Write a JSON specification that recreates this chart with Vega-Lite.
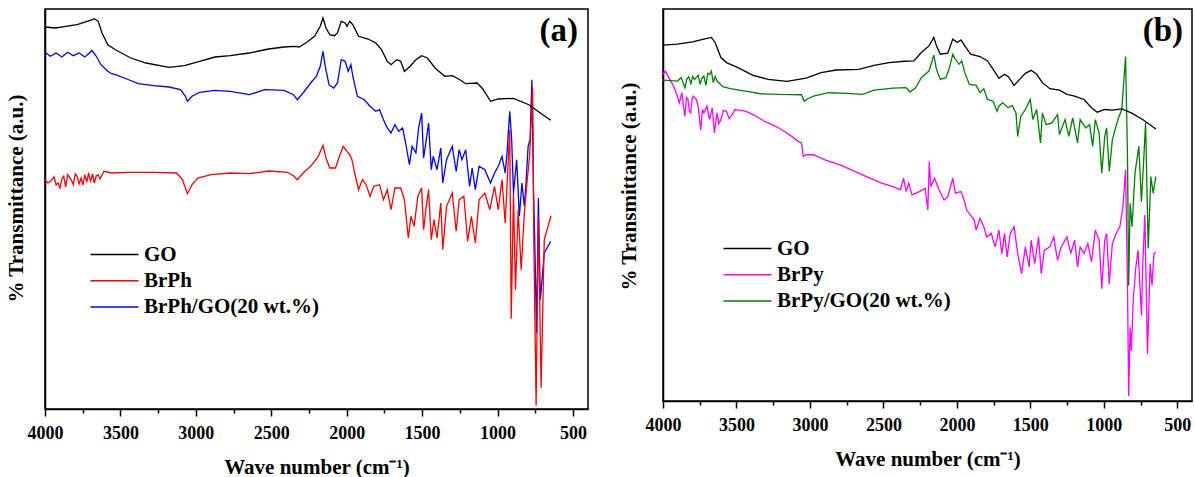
{
"$schema": "https://vega.github.io/schema/vega-lite/v6.json",
"background": "white",
"padding": {"left": 4, "top": 8, "right": 3, "bottom": 0},
"bounds": "flush",
"spacing": 75,
"config": {
  "font": "Liberation Serif",
  "view": {"stroke": "black", "strokeWidth": 1.5},
  "axis": {"domainColor": "black", "domainWidth": 1.5, "tickColor": "black", "tickWidth": 1.5, "labelFont": "Liberation Serif", "titleFont": "Liberation Serif", "labelFontWeight": "bold", "titleFontWeight": "bold", "labelColor": "black", "titleColor": "black", "grid": false},
  "legend": {"labelFont": "Liberation Serif", "labelFontWeight": "bold", "labelColor": "black", "labelFontSize": 21, "labelLimit": 0, "symbolType": "M-4,0H4", "symbolSize": 144, "symbolStrokeWidth": 1.5, "labelOffset": 19, "rowPadding": 4.3}
},
"datasets": {
"a": [
{"x":4000,"y":356.7,"s":"BrPh/GO(20 wt.%)"},{"x":3964,"y":352.7,"s":"BrPh/GO(20 wt.%)"},{"x":3926,"y":356,"s":"BrPh/GO(20 wt.%)"},{"x":3888,"y":352,"s":"BrPh/GO(20 wt.%)"},{"x":3850,"y":356.7,"s":"BrPh/GO(20 wt.%)"},{"x":3812,"y":353.3,"s":"BrPh/GO(20 wt.%)"},{"x":3774,"y":356,"s":"BrPh/GO(20 wt.%)"},{"x":3736,"y":352,"s":"BrPh/GO(20 wt.%)"},{"x":3711,"y":355.3,"s":"BrPh/GO(20 wt.%)"},{"x":3690,"y":358.7,"s":"BrPh/GO(20 wt.%)"},{"x":3660,"y":352.7,"s":"BrPh/GO(20 wt.%)"},{"x":3629,"y":344.3,"s":"BrPh/GO(20 wt.%)"},{"x":3584,"y":337.7,"s":"BrPh/GO(20 wt.%)"},{"x":3558,"y":335.3,"s":"BrPh/GO(20 wt.%)"},{"x":3533,"y":334.3,"s":"BrPh/GO(20 wt.%)"},{"x":3457,"y":330,"s":"BrPh/GO(20 wt.%)"},{"x":3381,"y":325.3,"s":"BrPh/GO(20 wt.%)"},{"x":3279,"y":323.3,"s":"BrPh/GO(20 wt.%)"},{"x":3178,"y":322,"s":"BrPh/GO(20 wt.%)"},{"x":3102,"y":319.3,"s":"BrPh/GO(20 wt.%)"},{"x":3069,"y":312.7,"s":"BrPh/GO(20 wt.%)"},{"x":3056,"y":307.7,"s":"BrPh/GO(20 wt.%)"},{"x":3025,"y":312.7,"s":"BrPh/GO(20 wt.%)"},{"x":2975,"y":316.7,"s":"BrPh/GO(20 wt.%)"},{"x":2873,"y":318.7,"s":"BrPh/GO(20 wt.%)"},{"x":2772,"y":317.7,"s":"BrPh/GO(20 wt.%)"},{"x":2645,"y":314.3,"s":"BrPh/GO(20 wt.%)"},{"x":2543,"y":319.3,"s":"BrPh/GO(20 wt.%)"},{"x":2416,"y":318.7,"s":"BrPh/GO(20 wt.%)"},{"x":2353,"y":314.3,"s":"BrPh/GO(20 wt.%)"},{"x":2327,"y":309.3,"s":"BrPh/GO(20 wt.%)"},{"x":2289,"y":316,"s":"BrPh/GO(20 wt.%)"},{"x":2239,"y":326,"s":"BrPh/GO(20 wt.%)"},{"x":2201,"y":332.7,"s":"BrPh/GO(20 wt.%)"},{"x":2175,"y":342.7,"s":"BrPh/GO(20 wt.%)"},{"x":2157,"y":357.7,"s":"BrPh/GO(20 wt.%)"},{"x":2142,"y":342.7,"s":"BrPh/GO(20 wt.%)"},{"x":2117,"y":324.3,"s":"BrPh/GO(20 wt.%)"},{"x":2086,"y":321,"s":"BrPh/GO(20 wt.%)"},{"x":2061,"y":326,"s":"BrPh/GO(20 wt.%)"},{"x":2036,"y":349.3,"s":"BrPh/GO(20 wt.%)"},{"x":2010,"y":347.7,"s":"BrPh/GO(20 wt.%)"},{"x":1990,"y":337.7,"s":"BrPh/GO(20 wt.%)"},{"x":1972,"y":344.3,"s":"BrPh/GO(20 wt.%)"},{"x":1959,"y":332.7,"s":"BrPh/GO(20 wt.%)"},{"x":1929,"y":312.7,"s":"BrPh/GO(20 wt.%)"},{"x":1883,"y":309.3,"s":"BrPh/GO(20 wt.%)"},{"x":1845,"y":302.7,"s":"BrPh/GO(20 wt.%)"},{"x":1807,"y":297.7,"s":"BrPh/GO(20 wt.%)"},{"x":1782,"y":299.3,"s":"BrPh/GO(20 wt.%)"},{"x":1756,"y":289.3,"s":"BrPh/GO(20 wt.%)"},{"x":1731,"y":281,"s":"BrPh/GO(20 wt.%)"},{"x":1706,"y":276,"s":"BrPh/GO(20 wt.%)"},{"x":1680,"y":284.3,"s":"BrPh/GO(20 wt.%)"},{"x":1655,"y":277.7,"s":"BrPh/GO(20 wt.%)"},{"x":1629,"y":281,"s":"BrPh/GO(20 wt.%)"},{"x":1609,"y":266,"s":"BrPh/GO(20 wt.%)"},{"x":1584,"y":244.3,"s":"BrPh/GO(20 wt.%)"},{"x":1566,"y":262.7,"s":"BrPh/GO(20 wt.%)"},{"x":1541,"y":256,"s":"BrPh/GO(20 wt.%)"},{"x":1523,"y":281,"s":"BrPh/GO(20 wt.%)"},{"x":1503,"y":296,"s":"BrPh/GO(20 wt.%)"},{"x":1490,"y":251,"s":"BrPh/GO(20 wt.%)"},{"x":1472,"y":269.3,"s":"BrPh/GO(20 wt.%)"},{"x":1457,"y":286,"s":"BrPh/GO(20 wt.%)"},{"x":1439,"y":239.3,"s":"BrPh/GO(20 wt.%)"},{"x":1426,"y":252.7,"s":"BrPh/GO(20 wt.%)"},{"x":1401,"y":239.3,"s":"BrPh/GO(20 wt.%)"},{"x":1376,"y":261,"s":"BrPh/GO(20 wt.%)"},{"x":1363,"y":226,"s":"BrPh/GO(20 wt.%)"},{"x":1338,"y":249.3,"s":"BrPh/GO(20 wt.%)"},{"x":1300,"y":262.7,"s":"BrPh/GO(20 wt.%)"},{"x":1274,"y":237.7,"s":"BrPh/GO(20 wt.%)"},{"x":1254,"y":259.3,"s":"BrPh/GO(20 wt.%)"},{"x":1236,"y":249.3,"s":"BrPh/GO(20 wt.%)"},{"x":1211,"y":259.3,"s":"BrPh/GO(20 wt.%)"},{"x":1185,"y":222.7,"s":"BrPh/GO(20 wt.%)"},{"x":1168,"y":241,"s":"BrPh/GO(20 wt.%)"},{"x":1147,"y":219.3,"s":"BrPh/GO(20 wt.%)"},{"x":1122,"y":242.7,"s":"BrPh/GO(20 wt.%)"},{"x":1084,"y":239.3,"s":"BrPh/GO(20 wt.%)"},{"x":1046,"y":226,"s":"BrPh/GO(20 wt.%)"},{"x":1020,"y":236,"s":"BrPh/GO(20 wt.%)"},{"x":995,"y":242.7,"s":"BrPh/GO(20 wt.%)"},{"x":970,"y":252.7,"s":"BrPh/GO(20 wt.%)"},{"x":949,"y":236,"s":"BrPh/GO(20 wt.%)"},{"x":937,"y":256,"s":"BrPh/GO(20 wt.%)"},{"x":919,"y":297.7,"s":"BrPh/GO(20 wt.%)"},{"x":906,"y":269.3,"s":"BrPh/GO(20 wt.%)"},{"x":894,"y":216,"s":"BrPh/GO(20 wt.%)"},{"x":873,"y":249.3,"s":"BrPh/GO(20 wt.%)"},{"x":855,"y":192.7,"s":"BrPh/GO(20 wt.%)"},{"x":838,"y":226,"s":"BrPh/GO(20 wt.%)"},{"x":822,"y":202.7,"s":"BrPh/GO(20 wt.%)"},{"x":812,"y":222.7,"s":"BrPh/GO(20 wt.%)"},{"x":797,"y":262.7,"s":"BrPh/GO(20 wt.%)"},{"x":784,"y":269.3,"s":"BrPh/GO(20 wt.%)"},{"x":772,"y":329.3,"s":"BrPh/GO(20 wt.%)"},{"x":761,"y":216,"s":"BrPh/GO(20 wt.%)"},{"x":754,"y":176,"s":"BrPh/GO(20 wt.%)"},{"x":741,"y":76,"s":"BrPh/GO(20 wt.%)"},{"x":729,"y":211,"s":"BrPh/GO(20 wt.%)"},{"x":716,"y":109.3,"s":"BrPh/GO(20 wt.%)"},{"x":690,"y":156,"s":"BrPh/GO(20 wt.%)"},{"x":647,"y":167.7,"s":"BrPh/GO(20 wt.%)"},
{"x":4000,"y":229.3,"s":"BrPh"},{"x":3982,"y":226,"s":"BrPh"},{"x":3964,"y":227.7,"s":"BrPh"},{"x":3940,"y":232,"s":"BrPh"},{"x":3926,"y":224,"s":"BrPh"},{"x":3914,"y":226,"s":"BrPh"},{"x":3901,"y":221,"s":"BrPh"},{"x":3888,"y":230,"s":"BrPh"},{"x":3876,"y":232.7,"s":"BrPh"},{"x":3863,"y":222,"s":"BrPh"},{"x":3850,"y":234.3,"s":"BrPh"},{"x":3825,"y":229,"s":"BrPh"},{"x":3812,"y":224.3,"s":"BrPh"},{"x":3800,"y":235,"s":"BrPh"},{"x":3787,"y":232.7,"s":"BrPh"},{"x":3774,"y":225,"s":"BrPh"},{"x":3761,"y":231,"s":"BrPh"},{"x":3748,"y":224,"s":"BrPh"},{"x":3736,"y":234.3,"s":"BrPh"},{"x":3723,"y":227,"s":"BrPh"},{"x":3711,"y":236,"s":"BrPh"},{"x":3698,"y":228,"s":"BrPh"},{"x":3685,"y":235,"s":"BrPh"},{"x":3673,"y":226,"s":"BrPh"},{"x":3660,"y":233,"s":"BrPh"},{"x":3647,"y":234.3,"s":"BrPh"},{"x":3635,"y":230,"s":"BrPh"},{"x":3609,"y":237.7,"s":"BrPh"},{"x":3558,"y":236,"s":"BrPh"},{"x":3457,"y":236.7,"s":"BrPh"},{"x":3279,"y":236.7,"s":"BrPh"},{"x":3127,"y":236,"s":"BrPh"},{"x":3089,"y":229.3,"s":"BrPh"},{"x":3056,"y":215.3,"s":"BrPh"},{"x":3025,"y":224.3,"s":"BrPh"},{"x":2987,"y":231,"s":"BrPh"},{"x":2899,"y":234.3,"s":"BrPh"},{"x":2772,"y":236,"s":"BrPh"},{"x":2645,"y":235.3,"s":"BrPh"},{"x":2518,"y":238,"s":"BrPh"},{"x":2391,"y":236.7,"s":"BrPh"},{"x":2353,"y":233.3,"s":"BrPh"},{"x":2327,"y":229.3,"s":"BrPh"},{"x":2289,"y":236,"s":"BrPh"},{"x":2239,"y":242.7,"s":"BrPh"},{"x":2188,"y":252.7,"s":"BrPh"},{"x":2157,"y":263.7,"s":"BrPh"},{"x":2137,"y":251,"s":"BrPh"},{"x":2112,"y":241,"s":"BrPh"},{"x":2074,"y":241,"s":"BrPh"},{"x":2048,"y":252.7,"s":"BrPh"},{"x":2023,"y":262.7,"s":"BrPh"},{"x":1998,"y":257.7,"s":"BrPh"},{"x":1980,"y":254.3,"s":"BrPh"},{"x":1965,"y":249.3,"s":"BrPh"},{"x":1947,"y":236,"s":"BrPh"},{"x":1921,"y":219.3,"s":"BrPh"},{"x":1896,"y":229.3,"s":"BrPh"},{"x":1871,"y":224.3,"s":"BrPh"},{"x":1845,"y":212.7,"s":"BrPh"},{"x":1820,"y":222.7,"s":"BrPh"},{"x":1782,"y":224.3,"s":"BrPh"},{"x":1756,"y":209.3,"s":"BrPh"},{"x":1731,"y":219.3,"s":"BrPh"},{"x":1706,"y":199.3,"s":"BrPh"},{"x":1680,"y":221,"s":"BrPh"},{"x":1642,"y":221,"s":"BrPh"},{"x":1617,"y":209.3,"s":"BrPh"},{"x":1591,"y":171,"s":"BrPh"},{"x":1574,"y":192.7,"s":"BrPh"},{"x":1553,"y":182.7,"s":"BrPh"},{"x":1528,"y":212.7,"s":"BrPh"},{"x":1503,"y":221,"s":"BrPh"},{"x":1490,"y":179.3,"s":"BrPh"},{"x":1472,"y":202.7,"s":"BrPh"},{"x":1457,"y":219.3,"s":"BrPh"},{"x":1439,"y":169.3,"s":"BrPh"},{"x":1421,"y":189.3,"s":"BrPh"},{"x":1401,"y":171,"s":"BrPh"},{"x":1376,"y":206,"s":"BrPh"},{"x":1363,"y":159.3,"s":"BrPh"},{"x":1338,"y":202.7,"s":"BrPh"},{"x":1300,"y":216,"s":"BrPh"},{"x":1274,"y":177.7,"s":"BrPh"},{"x":1254,"y":209.3,"s":"BrPh"},{"x":1223,"y":212.7,"s":"BrPh"},{"x":1198,"y":167.7,"s":"BrPh"},{"x":1173,"y":192.7,"s":"BrPh"},{"x":1147,"y":166,"s":"BrPh"},{"x":1122,"y":209.3,"s":"BrPh"},{"x":1084,"y":216,"s":"BrPh"},{"x":1051,"y":199.3,"s":"BrPh"},{"x":1020,"y":222.7,"s":"BrPh"},{"x":995,"y":199.3,"s":"BrPh"},{"x":970,"y":229.3,"s":"BrPh"},{"x":949,"y":186,"s":"BrPh"},{"x":937,"y":222.7,"s":"BrPh"},{"x":919,"y":279.3,"s":"BrPh"},{"x":909,"y":90.3,"s":"BrPh"},{"x":894,"y":216,"s":"BrPh"},{"x":881,"y":119.3,"s":"BrPh"},{"x":863,"y":199.3,"s":"BrPh"},{"x":843,"y":139.3,"s":"BrPh"},{"x":822,"y":196,"s":"BrPh"},{"x":805,"y":226,"s":"BrPh"},{"x":787,"y":252.7,"s":"BrPh"},{"x":767,"y":321.3,"s":"BrPh"},{"x":759,"y":166,"s":"BrPh"},{"x":744,"y":3.3,"s":"BrPh"},{"x":729,"y":192.7,"s":"BrPh"},{"x":711,"y":21.3,"s":"BrPh"},{"x":690,"y":169.3,"s":"BrPh"},{"x":645,"y":193.3,"s":"BrPh"},
{"x":4000,"y":382,"s":"GO"},{"x":3930,"y":381,"s":"GO"},{"x":3863,"y":382.7,"s":"GO"},{"x":3787,"y":384.3,"s":"GO"},{"x":3685,"y":389.3,"s":"GO"},{"x":3673,"y":390.3,"s":"GO"},{"x":3647,"y":387.7,"s":"GO"},{"x":3622,"y":376,"s":"GO"},{"x":3584,"y":364.3,"s":"GO"},{"x":3533,"y":359.3,"s":"GO"},{"x":3431,"y":351,"s":"GO"},{"x":3330,"y":346,"s":"GO"},{"x":3178,"y":341.7,"s":"GO"},{"x":3076,"y":343.3,"s":"GO"},{"x":2975,"y":347.7,"s":"GO"},{"x":2873,"y":352,"s":"GO"},{"x":2772,"y":353.3,"s":"GO"},{"x":2645,"y":356,"s":"GO"},{"x":2518,"y":360,"s":"GO"},{"x":2416,"y":362,"s":"GO"},{"x":2340,"y":362.7,"s":"GO"},{"x":2315,"y":362,"s":"GO"},{"x":2264,"y":366.7,"s":"GO"},{"x":2213,"y":372.7,"s":"GO"},{"x":2175,"y":382.7,"s":"GO"},{"x":2157,"y":391,"s":"GO"},{"x":2137,"y":381,"s":"GO"},{"x":2112,"y":374.3,"s":"GO"},{"x":2081,"y":373.3,"s":"GO"},{"x":2061,"y":376,"s":"GO"},{"x":2036,"y":387.7,"s":"GO"},{"x":2010,"y":386,"s":"GO"},{"x":1998,"y":382.7,"s":"GO"},{"x":1980,"y":387.7,"s":"GO"},{"x":1959,"y":384.3,"s":"GO"},{"x":1921,"y":372.7,"s":"GO"},{"x":1858,"y":370,"s":"GO"},{"x":1807,"y":366,"s":"GO"},{"x":1769,"y":359.3,"s":"GO"},{"x":1731,"y":347.7,"s":"GO"},{"x":1706,"y":344.3,"s":"GO"},{"x":1668,"y":349.3,"s":"GO"},{"x":1642,"y":347.7,"s":"GO"},{"x":1617,"y":337.7,"s":"GO"},{"x":1579,"y":342.7,"s":"GO"},{"x":1541,"y":349.3,"s":"GO"},{"x":1503,"y":353.3,"s":"GO"},{"x":1465,"y":351,"s":"GO"},{"x":1414,"y":341,"s":"GO"},{"x":1350,"y":332.7,"s":"GO"},{"x":1300,"y":333.3,"s":"GO"},{"x":1249,"y":329.3,"s":"GO"},{"x":1211,"y":325.3,"s":"GO"},{"x":1135,"y":326,"s":"GO"},{"x":1097,"y":320,"s":"GO"},{"x":1046,"y":307.7,"s":"GO"},{"x":995,"y":310,"s":"GO"},{"x":894,"y":310.7,"s":"GO"},{"x":792,"y":304.3,"s":"GO"},{"x":716,"y":296,"s":"GO"},{"x":647,"y":288.7,"s":"GO"}
],
"b": [
{"x":4000,"y":325,"s":"BrPy"},{"x":3985,"y":328.3,"s":"BrPy"},{"x":3954,"y":320,"s":"BrPy"},{"x":3928,"y":313.3,"s":"BrPy"},{"x":3902,"y":303.3,"s":"BrPy"},{"x":3889,"y":296.7,"s":"BrPy"},{"x":3871,"y":306.7,"s":"BrPy"},{"x":3860,"y":292,"s":"BrPy"},{"x":3851,"y":283.3,"s":"BrPy"},{"x":3840,"y":302,"s":"BrPy"},{"x":3830,"y":300,"s":"BrPy"},{"x":3820,"y":288,"s":"BrPy"},{"x":3812,"y":286.7,"s":"BrPy"},{"x":3802,"y":300,"s":"BrPy"},{"x":3794,"y":303.3,"s":"BrPy"},{"x":3773,"y":300,"s":"BrPy"},{"x":3761,"y":293.3,"s":"BrPy"},{"x":3743,"y":269.3,"s":"BrPy"},{"x":3732,"y":290,"s":"BrPy"},{"x":3722,"y":286.7,"s":"BrPy"},{"x":3701,"y":293.3,"s":"BrPy"},{"x":3683,"y":280,"s":"BrPy"},{"x":3665,"y":291.7,"s":"BrPy"},{"x":3650,"y":266.7,"s":"BrPy"},{"x":3632,"y":286.7,"s":"BrPy"},{"x":3620,"y":276,"s":"BrPy"},{"x":3606,"y":280,"s":"BrPy"},{"x":3590,"y":289,"s":"BrPy"},{"x":3568,"y":288.3,"s":"BrPy"},{"x":3550,"y":281,"s":"BrPy"},{"x":3529,"y":285,"s":"BrPy"},{"x":3510,"y":290,"s":"BrPy"},{"x":3490,"y":289.3,"s":"BrPy"},{"x":3439,"y":288.3,"s":"BrPy"},{"x":3387,"y":285,"s":"BrPy"},{"x":3310,"y":278.3,"s":"BrPy"},{"x":3233,"y":273.3,"s":"BrPy"},{"x":3156,"y":266.7,"s":"BrPy"},{"x":3079,"y":258.3,"s":"BrPy"},{"x":3058,"y":256.7,"s":"BrPy"},{"x":3045,"y":243.3,"s":"BrPy"},{"x":3027,"y":245,"s":"BrPy"},{"x":2976,"y":245,"s":"BrPy"},{"x":2898,"y":240,"s":"BrPy"},{"x":2795,"y":235,"s":"BrPy"},{"x":2718,"y":230,"s":"BrPy"},{"x":2615,"y":223.3,"s":"BrPy"},{"x":2512,"y":216.7,"s":"BrPy"},{"x":2435,"y":213.3,"s":"BrPy"},{"x":2384,"y":210,"s":"BrPy"},{"x":2363,"y":221.7,"s":"BrPy"},{"x":2345,"y":208.3,"s":"BrPy"},{"x":2327,"y":216.7,"s":"BrPy"},{"x":2306,"y":205,"s":"BrPy"},{"x":2255,"y":208.3,"s":"BrPy"},{"x":2216,"y":211.7,"s":"BrPy"},{"x":2198,"y":190,"s":"BrPy"},{"x":2188,"y":238.3,"s":"BrPy"},{"x":2178,"y":213.3,"s":"BrPy"},{"x":2152,"y":221.7,"s":"BrPy"},{"x":2126,"y":211.7,"s":"BrPy"},{"x":2087,"y":200,"s":"BrPy"},{"x":2062,"y":203.3,"s":"BrPy"},{"x":2028,"y":221.7,"s":"BrPy"},{"x":2010,"y":206.7,"s":"BrPy"},{"x":1972,"y":208.3,"s":"BrPy"},{"x":1951,"y":200,"s":"BrPy"},{"x":1933,"y":190,"s":"BrPy"},{"x":1907,"y":185,"s":"BrPy"},{"x":1882,"y":180,"s":"BrPy"},{"x":1869,"y":170,"s":"BrPy"},{"x":1843,"y":181.7,"s":"BrPy"},{"x":1817,"y":173.3,"s":"BrPy"},{"x":1797,"y":163.3,"s":"BrPy"},{"x":1766,"y":166.7,"s":"BrPy"},{"x":1740,"y":153.3,"s":"BrPy"},{"x":1714,"y":170,"s":"BrPy"},{"x":1694,"y":146.7,"s":"BrPy"},{"x":1676,"y":166.7,"s":"BrPy"},{"x":1658,"y":143.3,"s":"BrPy"},{"x":1637,"y":166.7,"s":"BrPy"},{"x":1611,"y":173.3,"s":"BrPy"},{"x":1586,"y":146.7,"s":"BrPy"},{"x":1560,"y":126.7,"s":"BrPy"},{"x":1534,"y":153.3,"s":"BrPy"},{"x":1508,"y":133.3,"s":"BrPy"},{"x":1495,"y":160,"s":"BrPy"},{"x":1470,"y":136.7,"s":"BrPy"},{"x":1444,"y":163.3,"s":"BrPy"},{"x":1426,"y":126.7,"s":"BrPy"},{"x":1405,"y":150,"s":"BrPy"},{"x":1367,"y":153.3,"s":"BrPy"},{"x":1341,"y":163.3,"s":"BrPy"},{"x":1315,"y":140,"s":"BrPy"},{"x":1290,"y":153.3,"s":"BrPy"},{"x":1251,"y":163.3,"s":"BrPy"},{"x":1225,"y":146.7,"s":"BrPy"},{"x":1199,"y":160,"s":"BrPy"},{"x":1179,"y":133.3,"s":"BrPy"},{"x":1161,"y":153.3,"s":"BrPy"},{"x":1135,"y":146.7,"s":"BrPy"},{"x":1109,"y":156.7,"s":"BrPy"},{"x":1084,"y":138.3,"s":"BrPy"},{"x":1058,"y":170,"s":"BrPy"},{"x":1032,"y":160,"s":"BrPy"},{"x":1014,"y":111.7,"s":"BrPy"},{"x":994,"y":160,"s":"BrPy"},{"x":981,"y":166.7,"s":"BrPy"},{"x":963,"y":116.7,"s":"BrPy"},{"x":942,"y":156.7,"s":"BrPy"},{"x":916,"y":166.7,"s":"BrPy"},{"x":891,"y":173.3,"s":"BrPy"},{"x":870,"y":193.3,"s":"BrPy"},{"x":852,"y":230,"s":"BrPy"},{"x":839,"y":115,"s":"BrPy"},{"x":831,"y":5,"s":"BrPy"},{"x":821,"y":73.3,"s":"BrPy"},{"x":813,"y":50,"s":"BrPy"},{"x":800,"y":100,"s":"BrPy"},{"x":782,"y":133.3,"s":"BrPy"},{"x":767,"y":150,"s":"BrPy"},{"x":744,"y":85,"s":"BrPy"},{"x":736,"y":133.3,"s":"BrPy"},{"x":721,"y":185,"s":"BrPy"},{"x":703,"y":46.7,"s":"BrPy"},{"x":685,"y":136.7,"s":"BrPy"},{"x":672,"y":115,"s":"BrPy"},{"x":659,"y":146.7,"s":"BrPy"},{"x":646,"y":148.3,"s":"BrPy"},
{"x":4000,"y":319.3,"s":"BrPy/GO(20 wt.%)"},{"x":3902,"y":318.3,"s":"BrPy/GO(20 wt.%)"},{"x":3876,"y":321.7,"s":"BrPy/GO(20 wt.%)"},{"x":3851,"y":311.7,"s":"BrPy/GO(20 wt.%)"},{"x":3838,"y":320,"s":"BrPy/GO(20 wt.%)"},{"x":3825,"y":322.7,"s":"BrPy/GO(20 wt.%)"},{"x":3810,"y":316,"s":"BrPy/GO(20 wt.%)"},{"x":3798,"y":323,"s":"BrPy/GO(20 wt.%)"},{"x":3786,"y":320,"s":"BrPy/GO(20 wt.%)"},{"x":3760,"y":324,"s":"BrPy/GO(20 wt.%)"},{"x":3748,"y":315,"s":"BrPy/GO(20 wt.%)"},{"x":3735,"y":321,"s":"BrPy/GO(20 wt.%)"},{"x":3722,"y":323.3,"s":"BrPy/GO(20 wt.%)"},{"x":3708,"y":314,"s":"BrPy/GO(20 wt.%)"},{"x":3695,"y":326,"s":"BrPy/GO(20 wt.%)"},{"x":3683,"y":325,"s":"BrPy/GO(20 wt.%)"},{"x":3671,"y":328.3,"s":"BrPy/GO(20 wt.%)"},{"x":3658,"y":316.7,"s":"BrPy/GO(20 wt.%)"},{"x":3645,"y":323,"s":"BrPy/GO(20 wt.%)"},{"x":3632,"y":318.3,"s":"BrPy/GO(20 wt.%)"},{"x":3593,"y":312.7,"s":"BrPy/GO(20 wt.%)"},{"x":3542,"y":310.7,"s":"BrPy/GO(20 wt.%)"},{"x":3439,"y":308.3,"s":"BrPy/GO(20 wt.%)"},{"x":3336,"y":305.7,"s":"BrPy/GO(20 wt.%)"},{"x":3207,"y":305,"s":"BrPy/GO(20 wt.%)"},{"x":3058,"y":304.7,"s":"BrPy/GO(20 wt.%)"},{"x":3040,"y":298.3,"s":"BrPy/GO(20 wt.%)"},{"x":3014,"y":300.7,"s":"BrPy/GO(20 wt.%)"},{"x":2976,"y":303.3,"s":"BrPy/GO(20 wt.%)"},{"x":2873,"y":306.7,"s":"BrPy/GO(20 wt.%)"},{"x":2744,"y":306,"s":"BrPy/GO(20 wt.%)"},{"x":2641,"y":305,"s":"BrPy/GO(20 wt.%)"},{"x":2564,"y":309.3,"s":"BrPy/GO(20 wt.%)"},{"x":2435,"y":311.3,"s":"BrPy/GO(20 wt.%)"},{"x":2345,"y":311.7,"s":"BrPy/GO(20 wt.%)"},{"x":2319,"y":307.3,"s":"BrPy/GO(20 wt.%)"},{"x":2281,"y":311.7,"s":"BrPy/GO(20 wt.%)"},{"x":2242,"y":321.7,"s":"BrPy/GO(20 wt.%)"},{"x":2190,"y":328.3,"s":"BrPy/GO(20 wt.%)"},{"x":2157,"y":344,"s":"BrPy/GO(20 wt.%)"},{"x":2139,"y":330,"s":"BrPy/GO(20 wt.%)"},{"x":2113,"y":320,"s":"BrPy/GO(20 wt.%)"},{"x":2075,"y":321.7,"s":"BrPy/GO(20 wt.%)"},{"x":2054,"y":330,"s":"BrPy/GO(20 wt.%)"},{"x":2028,"y":345,"s":"BrPy/GO(20 wt.%)"},{"x":2010,"y":340,"s":"BrPy/GO(20 wt.%)"},{"x":1985,"y":335,"s":"BrPy/GO(20 wt.%)"},{"x":1967,"y":338.3,"s":"BrPy/GO(20 wt.%)"},{"x":1946,"y":326.7,"s":"BrPy/GO(20 wt.%)"},{"x":1915,"y":315,"s":"BrPy/GO(20 wt.%)"},{"x":1869,"y":314,"s":"BrPy/GO(20 wt.%)"},{"x":1843,"y":306.7,"s":"BrPy/GO(20 wt.%)"},{"x":1817,"y":310.7,"s":"BrPy/GO(20 wt.%)"},{"x":1792,"y":300,"s":"BrPy/GO(20 wt.%)"},{"x":1753,"y":298.3,"s":"BrPy/GO(20 wt.%)"},{"x":1727,"y":288.3,"s":"BrPy/GO(20 wt.%)"},{"x":1714,"y":293.3,"s":"BrPy/GO(20 wt.%)"},{"x":1689,"y":296.7,"s":"BrPy/GO(20 wt.%)"},{"x":1650,"y":291.7,"s":"BrPy/GO(20 wt.%)"},{"x":1624,"y":294,"s":"BrPy/GO(20 wt.%)"},{"x":1598,"y":286.7,"s":"BrPy/GO(20 wt.%)"},{"x":1586,"y":263.3,"s":"BrPy/GO(20 wt.%)"},{"x":1565,"y":283.3,"s":"BrPy/GO(20 wt.%)"},{"x":1534,"y":290,"s":"BrPy/GO(20 wt.%)"},{"x":1501,"y":300,"s":"BrPy/GO(20 wt.%)"},{"x":1483,"y":280,"s":"BrPy/GO(20 wt.%)"},{"x":1457,"y":290,"s":"BrPy/GO(20 wt.%)"},{"x":1431,"y":256.7,"s":"BrPy/GO(20 wt.%)"},{"x":1418,"y":286.7,"s":"BrPy/GO(20 wt.%)"},{"x":1393,"y":275,"s":"BrPy/GO(20 wt.%)"},{"x":1354,"y":276.7,"s":"BrPy/GO(20 wt.%)"},{"x":1315,"y":285,"s":"BrPy/GO(20 wt.%)"},{"x":1302,"y":265,"s":"BrPy/GO(20 wt.%)"},{"x":1264,"y":280,"s":"BrPy/GO(20 wt.%)"},{"x":1238,"y":263.3,"s":"BrPy/GO(20 wt.%)"},{"x":1212,"y":281.7,"s":"BrPy/GO(20 wt.%)"},{"x":1179,"y":256.7,"s":"BrPy/GO(20 wt.%)"},{"x":1161,"y":280,"s":"BrPy/GO(20 wt.%)"},{"x":1122,"y":271.7,"s":"BrPy/GO(20 wt.%)"},{"x":1097,"y":275,"s":"BrPy/GO(20 wt.%)"},{"x":1076,"y":253.3,"s":"BrPy/GO(20 wt.%)"},{"x":1058,"y":280,"s":"BrPy/GO(20 wt.%)"},{"x":1032,"y":266.7,"s":"BrPy/GO(20 wt.%)"},{"x":1014,"y":226.7,"s":"BrPy/GO(20 wt.%)"},{"x":994,"y":263.3,"s":"BrPy/GO(20 wt.%)"},{"x":981,"y":271.7,"s":"BrPy/GO(20 wt.%)"},{"x":963,"y":228.3,"s":"BrPy/GO(20 wt.%)"},{"x":942,"y":260,"s":"BrPy/GO(20 wt.%)"},{"x":904,"y":280,"s":"BrPy/GO(20 wt.%)"},{"x":878,"y":290,"s":"BrPy/GO(20 wt.%)"},{"x":852,"y":342.7,"s":"BrPy/GO(20 wt.%)"},{"x":839,"y":243.3,"s":"BrPy/GO(20 wt.%)"},{"x":831,"y":115,"s":"BrPy/GO(20 wt.%)"},{"x":821,"y":196.7,"s":"BrPy/GO(20 wt.%)"},{"x":808,"y":173.3,"s":"BrPy/GO(20 wt.%)"},{"x":788,"y":226.7,"s":"BrPy/GO(20 wt.%)"},{"x":762,"y":253.3,"s":"BrPy/GO(20 wt.%)"},{"x":744,"y":198.3,"s":"BrPy/GO(20 wt.%)"},{"x":731,"y":233.3,"s":"BrPy/GO(20 wt.%)"},{"x":716,"y":276.7,"s":"BrPy/GO(20 wt.%)"},{"x":698,"y":151.7,"s":"BrPy/GO(20 wt.%)"},{"x":680,"y":223.3,"s":"BrPy/GO(20 wt.%)"},{"x":664,"y":206.7,"s":"BrPy/GO(20 wt.%)"},{"x":646,"y":223.3,"s":"BrPy/GO(20 wt.%)"},
{"x":4000,"y":354,"s":"GO"},{"x":3902,"y":355,"s":"GO"},{"x":3799,"y":357.3,"s":"GO"},{"x":3722,"y":360,"s":"GO"},{"x":3671,"y":361.7,"s":"GO"},{"x":3645,"y":356.7,"s":"GO"},{"x":3606,"y":341.7,"s":"GO"},{"x":3568,"y":336.7,"s":"GO"},{"x":3490,"y":331.7,"s":"GO"},{"x":3387,"y":324,"s":"GO"},{"x":3284,"y":320,"s":"GO"},{"x":3156,"y":318,"s":"GO"},{"x":3027,"y":321.3,"s":"GO"},{"x":2924,"y":326.7,"s":"GO"},{"x":2821,"y":329.3,"s":"GO"},{"x":2667,"y":330,"s":"GO"},{"x":2564,"y":334,"s":"GO"},{"x":2461,"y":336.7,"s":"GO"},{"x":2358,"y":338,"s":"GO"},{"x":2293,"y":338.3,"s":"GO"},{"x":2242,"y":346.7,"s":"GO"},{"x":2190,"y":353.3,"s":"GO"},{"x":2157,"y":361.7,"s":"GO"},{"x":2139,"y":353.3,"s":"GO"},{"x":2113,"y":345,"s":"GO"},{"x":2062,"y":346,"s":"GO"},{"x":2028,"y":360,"s":"GO"},{"x":1997,"y":356.7,"s":"GO"},{"x":1972,"y":359.3,"s":"GO"},{"x":1946,"y":353.3,"s":"GO"},{"x":1907,"y":345,"s":"GO"},{"x":1843,"y":342.7,"s":"GO"},{"x":1792,"y":338.3,"s":"GO"},{"x":1753,"y":330,"s":"GO"},{"x":1714,"y":321,"s":"GO"},{"x":1676,"y":325,"s":"GO"},{"x":1650,"y":322.7,"s":"GO"},{"x":1611,"y":314,"s":"GO"},{"x":1573,"y":320,"s":"GO"},{"x":1534,"y":326,"s":"GO"},{"x":1495,"y":329,"s":"GO"},{"x":1457,"y":325,"s":"GO"},{"x":1418,"y":316.7,"s":"GO"},{"x":1367,"y":310.7,"s":"GO"},{"x":1302,"y":309.3,"s":"GO"},{"x":1251,"y":305,"s":"GO"},{"x":1199,"y":303.3,"s":"GO"},{"x":1135,"y":300,"s":"GO"},{"x":1084,"y":291.7,"s":"GO"},{"x":1045,"y":287.3,"s":"GO"},{"x":994,"y":290,"s":"GO"},{"x":942,"y":289.3,"s":"GO"},{"x":878,"y":290.7,"s":"GO"},{"x":813,"y":286.7,"s":"GO"},{"x":736,"y":280,"s":"GO"},{"x":646,"y":270.7,"s":"GO"}
]
},
"resolve": {"scale": {"color": "independent", "y": "independent", "x": "independent"}, "legend": {"color": "independent"}, "axis": {"x": "independent", "y": "independent"}},
"hconcat": [
{
  "width": 543, "height": 400,
  "title": {"text": "(a)", "anchor": "end", "orient": "top", "frame": "group", "offset": -39, "dx": -10, "fontSize": 33, "fontWeight": "bold", "font": "Liberation Serif", "color": "black"},
  "data": {"name": "a"},
  "layer": [
    {"mark": {"type": "line", "strokeWidth": 1.3},
     "encoding": {
       "x": {"field": "x", "type": "quantitative", "scale": {"domain": [400, 4000], "reverse": true, "nice": false, "zero": false},
             "axis": {"orient": "bottom", "values": [4000,3500,3000,2500,2000,1500,1000,500], "format": "d", "tickSize": 7, "labelFontSize": 18, "labelPadding": 8, "labelFlush": false, "title": "Wave number (cm⁻¹)", "titleFontSize": 21, "titlePadding": 14}},
       "y": {"field": "y", "type": "quantitative", "scale": {"domain": [0, 400], "nice": false, "zero": false},
             "axis": {"ticks": false, "labels": false, "title": "% Transmittance (a.u.)", "titleFontSize": 21, "titlePadding": 19, "titleY": 189}},
       "color": {"field": "s", "type": "nominal", "scale": {"domain": ["GO", "BrPh", "BrPh/GO(20 wt.%)"], "range": ["#000000", "#ff0000", "#0000ff"]},
                 "legend": {"title": null, "orient": "none", "legendX": 59, "legendY": 235}}
     }},
    {"mark": {"type": "rule", "opacity": 0},
     "encoding": {"x": {"datum": 4000, "type": "quantitative",
       "axis": {"orient": "bottom", "values": [3750,3250,2750,2250,1750,1250,750], "tickSize": 4, "labels": false, "domain": false, "title": null}}}}
  ],
  "resolve": {"axis": {"x": "independent"}}
},
{
  "width": 529, "height": 392,
  "title": {"text": "(b)", "anchor": "end", "orient": "top", "frame": "group", "offset": -39, "dx": -9, "fontSize": 33, "fontWeight": "bold", "font": "Liberation Serif", "color": "black"},
  "data": {"name": "b"},
  "layer": [
    {"mark": {"type": "line", "strokeWidth": 1.3},
     "encoding": {
       "x": {"field": "x", "type": "quantitative", "scale": {"domain": [400, 4000], "reverse": true, "nice": false, "zero": false},
             "axis": {"orient": "bottom", "values": [4000,3500,3000,2500,2000,1500,1000,500], "format": "d", "tickSize": 7, "labelFontSize": 18, "labelPadding": 8, "labelFlush": false, "title": "Wave number (cm⁻¹)", "titleFontSize": 21, "titlePadding": 14}},
       "y": {"field": "y", "type": "quantitative", "scale": {"domain": [0, 390], "nice": false, "zero": false},
             "axis": {"ticks": false, "labels": false, "title": "% Transmittance (a.u.)", "titleFontSize": 21, "titlePadding": 24, "titleY": 177}},
       "color": {"field": "s", "type": "nominal", "scale": {"domain": ["GO", "BrPy", "BrPy/GO(20 wt.%)"], "range": ["#000000", "#ff00ff", "#008000"]},
                 "legend": {"title": null, "orient": "none", "legendX": 74, "legendY": 229}}
     }},
    {"mark": {"type": "rule", "opacity": 0},
     "encoding": {"x": {"datum": 4000, "type": "quantitative",
       "axis": {"orient": "bottom", "values": [3750,3250,2750,2250,1750,1250,750], "tickSize": 4, "labels": false, "domain": false, "title": null}}}}
  ],
  "resolve": {"axis": {"x": "independent"}}
}
]
}
